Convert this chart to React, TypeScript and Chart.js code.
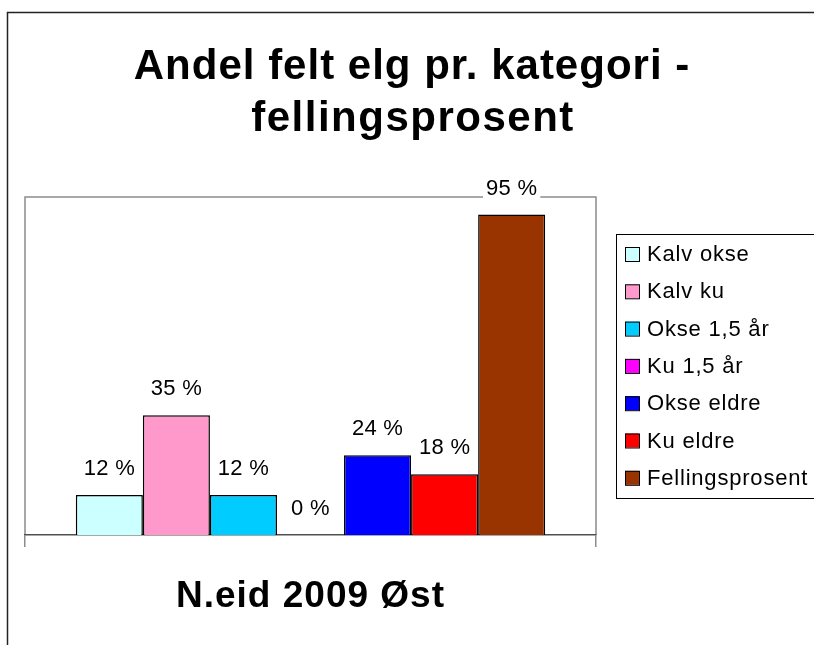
import React, { useEffect, useRef } from "react";
import { Chart, registerables } from "chart.js";

Chart.register(...registerables);

const titleLines = ["Andel felt elg pr. kategori -", "fellingsprosent"];
const categories = ["N.eid 2009 Øst"];
const seriesNames = [
  "Kalv okse",
  "Kalv ku",
  "Okse 1,5 år",
  "Ku 1,5 år",
  "Okse eldre",
  "Ku eldre",
  "Fellingsprosent",
];
const seriesValues = [11.8, 35.4, 11.8, 0, 23.6, 18.0, 94.8];
const seriesColors = ["#CCFFFF", "#FF99CC", "#00CCFF", "#FF00FF", "#0000FF", "#FF0000", "#993300"];
const yMin = 0;
const yMax = 100;

const FONT = '"Liberation Sans", Arial, Helvetica, sans-serif';

const decorPlugin = {
  id: "decor",
  beforeDraw(chart: any) {
    const ctx = chart.ctx as CanvasRenderingContext2D;
    const a = chart.chartArea;
    ctx.save();
    ctx.fillStyle = "#ffffff";
    ctx.fillRect(0, 0, chart.width, chart.height);

    // outer chart border
    ctx.strokeStyle = "#222222";
    ctx.lineWidth = 1.5;
    ctx.strokeRect(7.5, 12.5, 1000, 1000);

    // title
    ctx.fillStyle = "#000000";
    ctx.font = `bold 42px ${FONT}`;
    ctx.textAlign = "center";
    ctx.textBaseline = "alphabetic";
    (ctx as any).letterSpacing = "1px";
    ctx.fillText(titleLines[0], 412, 79);
    (ctx as any).letterSpacing = "1.5px";
    ctx.fillText(titleLines[1], 413, 131);

    // plot frame (left, top, right)
    ctx.strokeStyle = "#8c8c8c";
    ctx.lineWidth = 1.5;
    ctx.beginPath();
    ctx.moveTo(a.left, a.bottom);
    ctx.lineTo(a.left, a.top);
    ctx.lineTo(a.right, a.top);
    ctx.lineTo(a.right, a.bottom);
    ctx.stroke();

    // legend
    const lx = 616.5;
    const ly = 234.5;
    ctx.strokeStyle = "#000000";
    ctx.lineWidth = 1;
    ctx.strokeRect(lx, ly, 400, 264);
    ctx.font = `22px ${FONT}`;
    ctx.textAlign = "left";
    ctx.textBaseline = "middle";
    (ctx as any).letterSpacing = "0.8px";
    chart.data.datasets.forEach((ds: any, i: number) => {
      const cy = 254 + i * 37.3;
      ctx.fillStyle = ds.backgroundColor;
      ctx.fillRect(625, cy - 7, 14, 14);
      ctx.strokeStyle = "#000000";
      ctx.strokeRect(625.5, cy - 6.5, 14, 14);
      ctx.fillStyle = "#000000";
      ctx.fillText(ds.label, 647, cy + 1);
    });
    ctx.restore();
    (ctx as any).letterSpacing = "1px";
  },
  afterDatasetsDraw(chart: any) {
    const ctx = chart.ctx as CanvasRenderingContext2D;
    ctx.save();
    ctx.font = `22px ${FONT}`;
    (ctx as any).letterSpacing = "0.3px";
    ctx.textAlign = "center";
    ctx.textBaseline = "middle";
    chart.data.datasets.forEach((ds: any, i: number) => {
      const meta = chart.getDatasetMeta(i);
      meta.data.forEach((el: any, j: number) => {
        const v = ds.data[j];
        const text = `${Math.round(v)} %`;
        const w = ctx.measureText(text).width;
        const cy = el.y - 26;
        ctx.fillStyle = "#ffffff";
        ctx.fillRect(el.x - w / 2 - 3, cy - 11, w + 6, 22);
        ctx.fillStyle = "#000000";
        ctx.fillText(text, el.x, cy);
      });
    });
    ctx.restore();
  },
};

export default function App() {
  const ref = useRef<HTMLCanvasElement | null>(null);
  useEffect(() => {
    if (!ref.current) return;
    const chart = new Chart(ref.current, {
      type: "bar",
      data: {
        labels: categories,
        datasets: seriesNames.map((name, i) => ({
          label: name,
          data: [seriesValues[i]],
          backgroundColor: seriesColors[i],
          borderColor: "#000000",
          borderWidth: 1.5,
          barPercentage: 1,
          categoryPercentage: 0.822,
        })),
      },
      options: {
        animation: false,
        responsive: false,
        devicePixelRatio: 1,
        layout: { padding: { left: 25, top: 197, right: 218, bottom: 0 } },
        plugins: {
          legend: { display: false },
          title: { display: false },
          tooltip: { enabled: false },
        },
        scales: {
          x: {
            offset: true,
            grid: {
              display: true,
              drawOnChartArea: false,
              drawTicks: true,
              tickLength: 12,
              color: "#8c8c8c",
              lineWidth: 1.5,
              offset: true,
            },
            border: { display: true, color: "#505050", width: 1.5 },
            ticks: {
              color: "#000000",
              padding: 28,
              font: { family: FONT, size: 37, weight: "bold" },
            },
            afterFit: (s: any) => {
              s.height = 110;
            },
          },
          y: { display: false, min: yMin, max: yMax },
        },
      },
      plugins: [decorPlugin],
    } as any);
    return () => chart.destroy();
  }, []);
  return (
    <div style={{ position: "absolute", left: 0, top: 0, width: 814, height: 645, background: "#fff" }}>
      <canvas ref={ref} width={814} height={645} style={{ width: 814, height: 645, display: "block" }} />
    </div>
  );
}
